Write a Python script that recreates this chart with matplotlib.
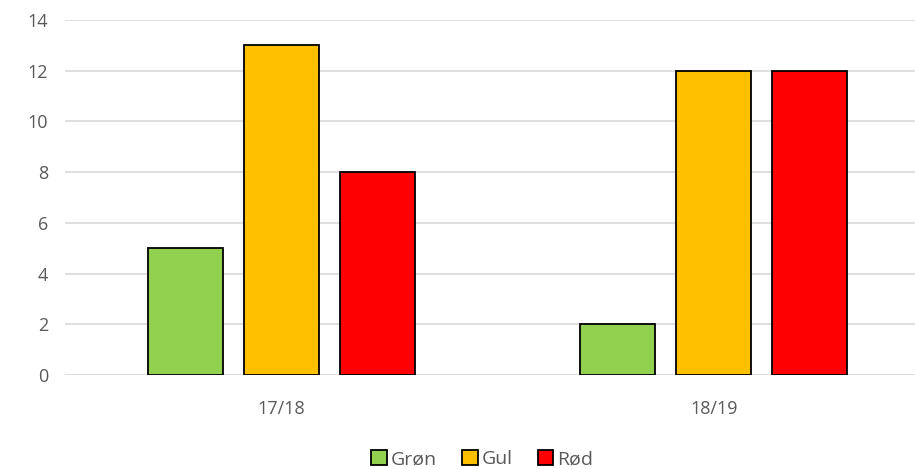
import numpy as np
import matplotlib.pyplot as plt
from matplotlib.patches import Patch

# data
seasons = ['17/18', '18/19']
series = ['Grøn', 'Gul', 'Rød']
groen = [5, 2]
gul = [13, 12]
roed = [8, 12]
colors = ['#92d050', '#ffc000', '#ff0000']

plt.rcParams['font.family'] = ['Open Sans', 'DejaVu Sans']

fig = plt.figure(figsize=(9.15, 4.69), dpi=100)
ax = fig.add_axes([65 / 915, 94 / 469, 850 / 915, 355 / 469])

x = np.arange(len(seasons))
w = 0.1736
off = 0.222
for i, (vals, c) in enumerate(zip([groen, gul, roed], colors)):
    ax.bar(x + (i - 1) * off, vals, w, color=c, edgecolor='black', linewidth=1.3, zorder=3)

ax.set_xlim(-0.5, 1.5 - 15 / 432)
ax.set_ylim(0, 14)
ax.set_yticks(range(0, 15, 2))
ax.set_xticks(x)
ax.set_xticklabels(seasons)
ax.grid(axis='y', color='#d9d9d9', linewidth=1.2, zorder=0)
for s in ax.spines.values():
    s.set_visible(False)
ax.tick_params(length=0, labelsize=13, colors='#595959')
ax.tick_params(axis='x', pad=18)
ax.tick_params(axis='y', pad=12)

handles = [Patch(facecolor=c, edgecolor='black', linewidth=1.3) for c in colors]
fig.legend(handles, series, loc='center', bbox_to_anchor=(0.527, 0.021), ncol=3,
           frameon=False, fontsize=14, labelcolor='#595959', handlelength=0.8,
           handleheight=0.8, handletextpad=0.2, columnspacing=1.3)

fig.savefig('out.png', dpi=100)
